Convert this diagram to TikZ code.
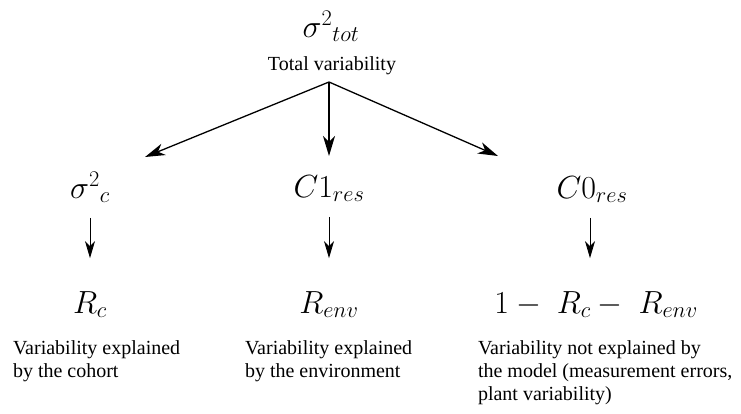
\documentclass[tikz,border=0pt]{standalone}
\usepackage{fix-cm}
\usepackage{amsmath,amssymb}
\usepackage{fontspec}
\setmainfont{Liberation Serif}
\usetikzlibrary{positioning,arrows.meta}

\begin{document}
\begin{tikzpicture}[x=1pt,y=-1pt,
          every node/.style={inner sep=0pt, outer sep=0pt},
          term/.style={anchor=base, font=\fontsize{32}{38}\selectfont},
          label/.style={anchor=base, font=\fontsize{20}{23}\selectfont},
          note/.style={anchor=base west, align=left, font=\fontsize{20}{23}\selectfont},
          split/.style={-{Stealth[length=20pt,width=12pt,inset=6pt]}, line width=1.3pt},
          map/.style={-{Stealth[length=17pt,width=10pt,inset=5pt]}, line width=0.9pt}
      ]
        \useasboundingbox (0,0) rectangle (741,413);

        \node[term] (tot) at (331,37) {${\sigma^{2}}_{tot}$};
        \node[label] (totlbl) at (332,70) {Total variability};
        \coordinate (root) at (329,82);

        \node[term] (sigc) at (90,198) {${\sigma^{2}}_{c}$};
        \node[term] (cone) at (329,197) {$C1_{res}$};
        \node[term] (czero) at (592,198) {$C0_{res}$};

        \coordinate (tipl) at (145,157);
        \coordinate (tipm) at (329,156);
        \coordinate (tipr) at (498,156);

        \node[term] (rc) at (90,313) {$R_c$};
        \node[term] (renv) at (329,313) {$R_{env}$};
        \node[term] (rrest) at (596,313) {$1 - \; R_c - \; R_{env}$};

        % last line baselines
        \node[note] (ncohort) at (13,377) {Variability explained\\by the cohort};
        \node[note] (nenv) at (245,377) {Variability explained\\by the environment};
        \node[note] (nrest) at (478,400) {Variability not explained by\\the model (measurement errors,\\plant variability)};

        \draw[split] (root) -- (tipl);
        \draw[split] (root) -- (tipm);
        \draw[split] (root) -- (tipr);

        \draw[map, shorten <=15pt, shorten >=33pt] (sigc.south) -- (rc.north);
        \draw[map, shorten <=15pt, shorten >=33pt] (cone.south) -- (renv.north);
        \draw[map, shorten <=15pt, shorten >=33pt] (czero.south -| 590,0) -- (rrest.north -| 590,0);
      \end{tikzpicture}
\end{document}
